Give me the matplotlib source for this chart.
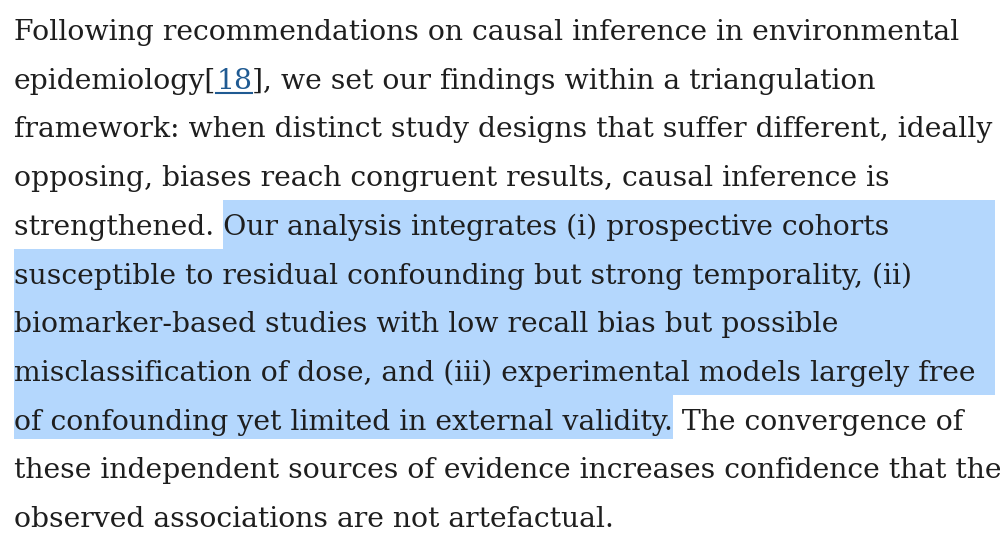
import matplotlib.pyplot as plt
from matplotlib.patches import Rectangle

LINES = [
    "Following recommendations on causal inference in environmental",
    "epidemiology[18], we set our findings within a triangulation",
    "framework: when distinct study designs that suffer different, ideally",
    "opposing, biases reach congruent results, causal inference is",
    "strengthened. Our analysis integrates (i) prospective cohorts",
    "susceptible to residual confounding but strong temporality, (ii)",
    "biomarker-based studies with low recall bias but possible",
    "misclassification of dose, and (iii) experimental models largely free",
    "of confounding yet limited in external validity. The convergence of",
    "these independent sources of evidence increases confidence that the",
    "observed associations are not artefactual.",
]
LINK = "18"
HL_START = (4, "strengthened. ")          # highlight begins after this prefix
HL_END = (8, "of confounding yet limited in external validity.")

TEXT_COLOR = "#1e1e1e"
LINK_COLOR = "#1f5a92"
HL_COLOR = "#b4d7fd"
X0, Y0, STEP = 14, 40, 48.7
HL_RIGHT = 995
FAMILY = "DejaVu Serif"

fig = plt.figure(figsize=(10, 5.38), dpi=100)
ax = fig.add_axes([0, 0, 1, 1])
ax.set_xlim(0, 1000)
ax.set_ylim(538, 0)
ax.axis("off")
r = fig.canvas.get_renderer()


def width(s, size):
    t = ax.text(0, 0, s, fontsize=size, family=FAMILY)
    w = t.get_window_extent(r).width
    t.remove()
    return w


# scale font so first line spans the same width as in the reference
size = 22 * 948 / width(LINES[0], 22)

# highlight bands
y_top = lambda i: Y0 + i * STEP - 35
sx = X0 + width(HL_START[1], size)
ax.add_patch(Rectangle((sx, y_top(HL_START[0])), HL_RIGHT - sx, STEP, color=HL_COLOR, lw=0))
for i in range(HL_START[0] + 1, HL_END[0]):
    ax.add_patch(Rectangle((X0, y_top(i)), HL_RIGHT - X0, STEP, color=HL_COLOR, lw=0))
ex = X0 + width(HL_END[1], size)
ax.add_patch(Rectangle((X0, y_top(HL_END[0])), ex - X0, STEP - 4, color=HL_COLOR, lw=0))

for i, line in enumerate(LINES):
    y = Y0 + i * STEP
    if "[" + LINK + "]" in line:
        pre, post = line.split(LINK, 1)
        ax.text(X0, y, pre, fontsize=size, family=FAMILY, color=TEXT_COLOR, va="baseline")
        lx = X0 + width(pre, size)
        lw = width(LINK, size)
        ax.text(lx, y, LINK, fontsize=size, family=FAMILY, color=LINK_COLOR, va="baseline")
        ax.plot([lx, lx + lw], [y + 4, y + 4], color=LINK_COLOR, lw=1.5)
        ax.text(lx + lw, y, post, fontsize=size, family=FAMILY, color=TEXT_COLOR, va="baseline")
    else:
        ax.text(X0, y, line, fontsize=size, family=FAMILY, color=TEXT_COLOR, va="baseline")

fig.savefig("out.png", dpi=100, facecolor="white")
